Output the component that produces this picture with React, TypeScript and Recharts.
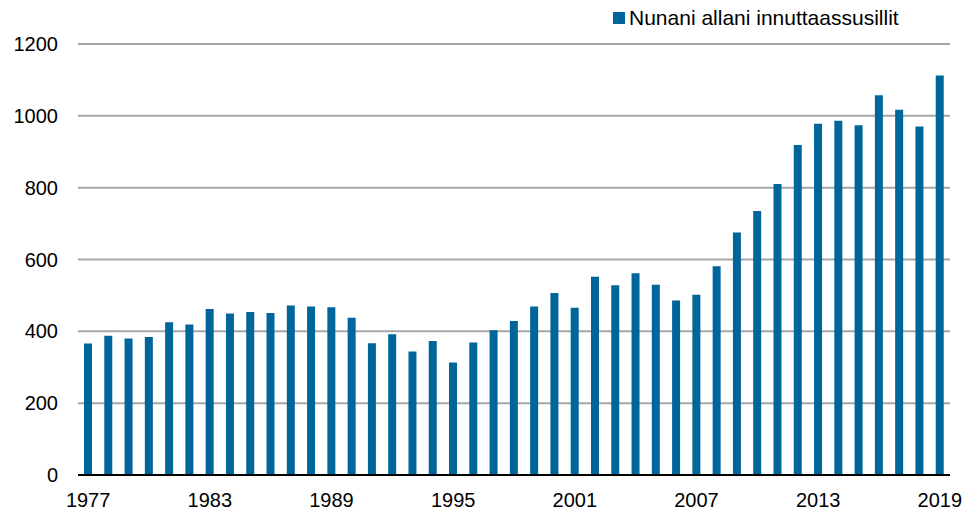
import React from 'react';
import { BarChart, Bar, XAxis, YAxis, CartesianGrid, Legend } from 'recharts';

const years = [
  1977, 1978, 1979, 1980, 1981, 1982, 1983, 1984, 1985, 1986,
  1987, 1988, 1989, 1990, 1991, 1992, 1993, 1994, 1995, 1996,
  1997, 1998, 1999, 2000, 2001, 2002, 2003, 2004, 2005, 2006,
  2007, 2008, 2009, 2010, 2011, 2012, 2013, 2014, 2015, 2016,
  2017, 2018, 2019,
];

const values = [
  366, 388, 380, 384, 425, 419, 462, 450, 454, 451,
  472, 469, 467, 438, 367, 392, 344, 373, 313, 369,
  403, 429, 469, 507, 466, 552, 528, 562, 530, 486,
  502, 581, 675, 735, 810, 919, 978, 986, 974, 1057,
  1017, 970, 1112,
];

const yTicks = [0, 200, 400, 600, 800, 1000, 1200];

const seriesName = 'Nunani allani innuttaassusillit';
const barColor = '#00659a';
const font = '"Liberation Sans", Arial, sans-serif';

const data = years.map((y, i) => ({ year: String(y), value: values[i] }));

function LegendBox() {
  return (
    <div style={{ display: 'flex', alignItems: 'center', fontFamily: font, fontSize: 21, color: '#000', whiteSpace: 'nowrap' }}>
      <span style={{ display: 'inline-block', width: 12, height: 12, background: barColor, marginRight: 4 }} />
      <span>{seriesName}</span>
    </div>
  );
}

export default function App() {
  return (
    <div style={{ position: 'absolute', left: 0, top: 0, width: 980, height: 510, background: '#fff' }}>
      <BarChart
        width={980}
        height={510}
        data={data}
        margin={{ top: 44, right: 30, left: 0, bottom: 0 }}
        barCategoryGap={0}
      >
        <CartesianGrid vertical={false} stroke="#a6a6a6" strokeWidth={2} />
        <XAxis
          dataKey="year"
          interval={5}
          height={35}
          tickSize={0}
          tickMargin={18}
          axisLine={{ stroke: '#000', strokeWidth: 2 }}
          tick={{ fontSize: 20, fill: '#000', fontFamily: font }}
        />
        <YAxis
          width={78}
          domain={[0, 1200]}
          ticks={yTicks}
          tickSize={0}
          tickMargin={20}
          axisLine={false}
          tickLine={false}
          tick={{ fontSize: 20, fill: '#000', fontFamily: font }}
        />
        <Legend
          verticalAlign="middle"
          align="center"
          layout="horizontal"
          wrapperStyle={{ top: 6, left: 613, width: 'auto' }}
          content={() => <LegendBox />}
        />
        <Bar dataKey="value" name={seriesName} fill={barColor} barSize={8} isAnimationActive={false} />
      </BarChart>
    </div>
  );
}
